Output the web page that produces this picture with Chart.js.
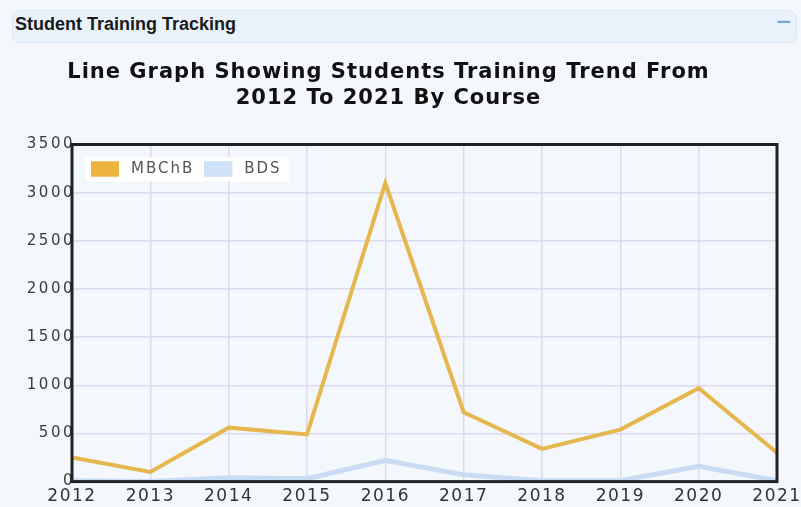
<!DOCTYPE html>
<html>
<head>
<meta charset="utf-8">
<script src="https://cdn.jsdelivr.net/npm/chart.js@4/dist/chart.umd.min.js"></script>
<style>
body{margin:0;background:#f4f8fc;overflow:hidden;width:801px;height:507px;}
#hdr{position:absolute;left:12px;top:10px;width:785px;height:33px;background:#e9f2fb;border:1px solid #d9e7f4;border-radius:8px;box-sizing:border-box;}
#hdr span{position:absolute;left:2px;top:3px;font:bold 18px "Liberation Sans",sans-serif;color:#1a1a1a;}
#hdr b{position:absolute;right:4px;top:-2px;font:bold 20px "DejaVu Sans",sans-serif;color:#6ea8de;}
#wrap{position:absolute;left:0;top:48px;width:830px;height:464px;}
</style>
</head>
<body>
<div id="hdr"><span>Student Training Tracking</span><b>−</b></div>
<div id="wrap"><canvas id="myChart"></canvas></div>
<script>
var years = ['2012','2013','2014','2015','2016','2017','2018','2019','2020','2021'];
var mbchb = [250, 100, 560, 490, 3100, 720, 340, 540, 970, 300];
var bds = [10, 0, 40, 30, 220, 70, 10, 10, 160, 10];
var yTicks = [0, 500, 1000, 1500, 2000, 2500, 3000, 3500];

// wider lettering like the original picture
var spacing = {x: '1.5px', y: '2.5px'};

var stylePlugin = {
  id: 'style',
  beforeDraw: function(chart){
    chart.ctx.letterSpacing = '1px';
    ['x','y'].forEach(function(id){
      var s = chart.scales[id];
      if(s && !s._spaced){
        var orig = s.drawLabels;
        s.drawLabels = function(a){
          var c = this.ctx, prev = c.letterSpacing;
          c.letterSpacing = spacing[id];
          orig.call(this, a);
          c.letterSpacing = prev;
        };
        s._spaced = true;
      }
    });
  },
  afterDraw: function(chart){
    var a = chart.chartArea, c = chart.ctx;
    c.save();
    c.strokeStyle = '#222';
    c.lineWidth = 3;
    c.strokeRect(a.left, a.top, a.right - a.left, a.bottom - a.top);
    // legend inside the plot, top left
    c.letterSpacing = '2px';
    c.font = '15px "DejaVu Sans"';
    c.textBaseline = 'middle';
    var x = a.left + 13, y = a.top + 13;
    var w = 0;
    chart.data.datasets.forEach(function(d){ w += 28 + 12 + c.measureText(d.label).width + 10; });
    c.fillStyle = '#ffffff';
    c.fillRect(x, y, w + 4, 24);
    x += 6;
    chart.data.datasets.forEach(function(d){
      c.fillStyle = d.backgroundColor;
      c.fillRect(x, y + 4, 28, 15);
      c.strokeStyle = d.borderColor;
      c.lineWidth = 1;
      c.strokeRect(x + 0.5, y + 4.5, 27, 14);
      c.fillStyle = '#555';
      c.fillText(d.label, x + 40, y + 12);
      x += 40 + c.measureText(d.label).width + 10;
    });
    c.restore();
  }
};

function makeChart(){
  var config = {
    type: 'line',
    data: {
      labels: years,
      datasets: [
        {label: 'MBChB', data: mbchb, borderColor: '#e5b84f', backgroundColor: '#eeb23c', borderWidth: 4, pointRadius: 0, fill: false, tension: 0},
        {label: 'BDS', data: bds, borderColor: '#c8ddf4', backgroundColor: '#cfe2f7', borderWidth: 5, pointRadius: 0, fill: false, tension: 0}
      ]
    },
    options: {
      responsive: false,
      animation: false,
      layout: {padding: {left: 0, right: 53, top: 0, bottom: 0}},
      plugins: {
        title: {display: true, text: ['Line Graph Showing Students Training Trend From', '2012 To 2021 By Course'],
          font: {family: '"DejaVu Sans"', size: 21, weight: 'bold', lineHeight: 1.25}, color: '#111', padding: {top: 11, bottom: 33}},
        legend: {display: false},
        tooltip: {enabled: false}
      },
      scales: {
        x: {offset: false, grid: {color: '#dad9ef', lineWidth: 1.5, drawTicks: false},
          border: {display: false},
          ticks: {font: {family: '"DejaVu Sans"', size: 17}, color: '#333', padding: 5, maxRotation: 0, autoSkip: false}},
        y: {min: 0, max: 3500,
          afterBuildTicks: function(s){ s.ticks = yTicks.map(function(v){return {value: v};}); },
          afterFit: function(s){ s.width = 72; },
          grid: {color: '#dad9ef', lineWidth: 1.5, drawTicks: false},
          border: {display: false},
          ticks: {font: {family: '"DejaVu Sans"', size: 15}, color: '#3c3c3c', padding: -3,
            callback: function(v){ return String(v); }}}
      }
    },
    plugins: [stylePlugin]
  };
  new Chart(document.getElementById('myChart'), config);
}
var cv = document.getElementById('myChart');
cv.width = 830; cv.height = 464;
makeChart();
</script>
</body>
</html>
